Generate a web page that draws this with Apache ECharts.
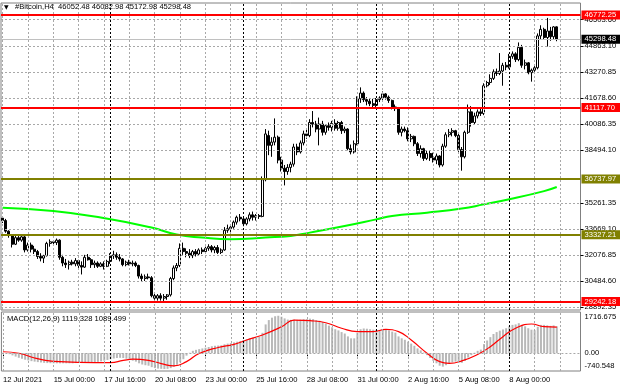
<!DOCTYPE html>
<html><head><meta charset="utf-8">
<script src="https://cdn.jsdelivr.net/npm/echarts@6/dist/echarts.min.js"></script>
<style>html,body{margin:0;padding:0;background:#fff}#c{width:620px;height:388px}</style>
</head><body><div id="c"></div>
<script>
// ---- H4 candles, 12 Jul 2021 08:00 .. 10 Aug 2021 12:00 ----
const open = [34350,34200,33550,33300,32750,33150,33000,33200,32400,32700,32450,32300,32000,31900,32050,32800,32900,32850,33000,31950,
31600,31500,31650,31550,31750,31450,31350,31950,31800,31500,31600,31400,31550,31400,31700,32050,32100,31950,31850,31500,
31650,31550,31600,31450,30800,30650,30750,30700,29600,29450,29600,29450,29550,29650,30650,31300,31450,32500,32300,32200,
32050,32300,32150,32400,32300,32500,32600,32400,32550,32250,32400,33600,33700,33800,34100,34400,34300,34000,34300,34550,
34400,34500,34450,36700,39400,38800,39000,39300,37900,37400,37200,37450,37650,38700,38400,38950,39500,39400,40200,40100,
39800,40100,39600,40000,39900,40150,39850,40200,39700,39800,38600,38400,38900,41650,42000,41600,41500,41350,41250,41600,
41700,41950,41750,41550,41150,41050,39600,39800,39700,39200,39350,38900,38300,38600,38000,38300,38050,37900,38150,37600,
38750,39450,39600,39700,39400,38550,38100,39600,40850,40200,40600,40850,40750,42450,42650,42900,43300,43200,43350,43700,
43600,44250,44400,44050,44800,43700,43850,43250,43400,43550,45500,45900,45400,45800,45450,46052.48];
const high = [34450,34300,33600,33350,33250,33250,33300,33250,32850,32850,32650,32400,32200,32100,32900,33050,33000,33100,33050,32100,
31850,31750,31800,31900,31800,31700,32100,32150,31900,31750,31700,31650,31700,31800,32200,32350,32250,32150,31900,31750,
31800,31750,31700,31500,30950,30900,30950,30800,29750,29700,29750,29700,29700,30750,31450,31600,32800,32850,32500,32450,
32400,32450,32500,32550,32600,32750,32700,32650,32700,32500,33800,33950,33850,34200,34500,34600,34450,34400,34700,34750,
34600,34600,36900,39800,39700,39300,40450,39400,38100,37600,37650,37800,38900,38900,39100,39700,39800,40400,40900,40300,
40500,40300,40100,40200,40300,40400,40300,40300,39950,39850,38850,39100,41800,42350,42100,41750,41700,41650,41700,41800,
42100,42000,41850,41600,41300,41150,39950,39950,39900,39500,39400,39000,38800,38650,38500,38450,38350,38300,38200,38900,
39600,39800,39850,39750,39500,38700,39700,41300,41200,40800,41000,41050,42600,42750,43150,43450,43500,44450,43850,43900,
44400,44550,44500,45100,44950,44050,43900,43500,43650,45650,46150,46000,46600,46050,46100,46082.98];
const low = [34050,33450,33150,32550,32700,32900,32900,32250,32300,32250,32150,31850,31700,31600,32000,32600,32650,32700,31800,31400,
31300,31200,31450,31400,31300,30900,31300,31750,31300,31300,31300,31350,31200,31350,31550,31850,31800,31700,31400,31400,
31450,31400,31350,30650,30450,30500,30600,29500,29350,29300,29300,29280,29350,29550,30550,31100,31350,32100,31950,31900,
31900,32000,32050,32150,32200,32350,32250,32200,32150,32150,32350,33450,33500,33700,33950,34150,33850,33900,34150,34200,
34200,34300,34400,36600,38200,38100,38800,37700,37200,36350,37000,37150,37500,38200,38300,38800,39200,39300,39900,39600,
38800,39400,39450,39700,39650,39700,39700,39500,39550,38500,38250,38300,38800,41400,41450,41250,41200,41100,41150,41450,
41550,41600,41400,41000,40900,39450,39350,39600,39050,39000,38750,38150,38050,37850,37900,37850,37750,37650,37450,37500,
38650,39300,39350,39300,38400,37250,38000,39500,39950,40050,40450,40600,40650,42350,42500,42800,43050,43100,42450,43400,
43500,44100,43900,43950,43550,43450,43150,42700,43300,43450,45300,45250,44850,45200,45300,45172.98];
const close = [34200,33550,33300,32750,33150,33000,33200,32400,32700,32450,32300,32000,31900,32050,32800,32900,32850,33000,31950,31600,
31500,31650,31550,31750,31450,31350,31950,31800,31500,31600,31400,31550,31400,31700,32050,32100,31950,31850,31500,31650,
31550,31600,31450,30800,30650,30750,30700,29600,29450,29600,29450,29550,29650,30650,31300,31450,32500,32300,32200,32050,
32300,32150,32400,32300,32500,32600,32400,32550,32250,32400,33600,33700,33800,34100,34400,34300,34000,34300,34550,34400,
34500,34450,36700,39500,38800,39000,39300,37900,37400,37200,37450,37650,38700,38400,38950,39500,39400,40200,40100,39800,
40100,39600,40000,39900,40150,39850,40200,39700,39800,38600,38400,38900,41650,42000,41600,41500,41350,41250,41600,41700,
41950,41750,41550,41150,41050,39600,39800,39700,39200,39350,38900,38300,38600,38000,38300,38050,37900,38150,37600,38750,
39450,39600,39700,39400,38550,38100,39600,40850,40200,40600,40850,40750,42450,42650,42900,43300,43200,43350,43700,43600,
44250,44400,44050,44800,43700,43850,43250,43400,43550,45500,45900,45400,45800,45450,46050,45298.48];

// moving average (green), read at sample bars
const maIdx = [0,16,31,47,55,63,72,83,91,97,108,118,123,134,145,152,160,171,175];
const maVal = [34980,34780,34380,33770,33340,33160,33060,33160,33260,33460,33860,34270,34480,34680,34930,35190,35500,36000,36250];

// MACD(12,26,9) histogram, one value per bar
const macdHist = [20,0,-40,-90,-140,-190,-230,-270,-300,-330,-350,-370,-385,
-400,-410,-415,-420,-420,-420,-420,-420,
-420,-420,-410,-400,-405,-395,-385,-380,-370,-360,
-340,-310,-280,-250,-220,-200,-190,-200,-230,-270,
-310,-350,-420,-470,-500,-520,
-580,-620,-640,-650,-660,-650,-620,
-560,-480,-380,-250,-100,
20,100,140,170,200,230,260,290,310,320,330,370,400,420,450,480,510,540,580,620,650,670,680,
850,1200,1380,1480,1540,1560,1520,1450,1400,1390,1400,1390,1400,1420,1420,1440,
1420,1380,1350,1300,1230,1150,1080,1000,950,880,820,700,620,620,
850,1000,1030,1020,1000,980,970,970,990,980,950,900,860,700,620,560,480,400,310,200,120,30,
-80,-200,-320,-420,-520,-560,-500,-430,-380,-350,-380,-400,-320,-180,-80,20,100,150,
380,530,670,800,880,940,990,1040,1120,1180,1200,1250,1180,1120,1040,980,960,1100,1180,1180,1160,1140,1160,1119.328];
// signal line, read at sample bars
const sigIdx = [0,5,10,13,16,24,34,38,41,46,50,54,58,62,68,73,77,82,88,92,97,102,107,112,117,121,125,129,134,138,141,145,150,154,158,162,167,171,175];
const sigVal = [62,0,-200,-290,-340,-380,-390,-300,-250,-300,-430,-530,-350,-10,240,370,550,760,1100,1380,1355,1270,1040,900,900,990,900,550,0,-350,-420,-320,-50,270,690,1040,1216,1104,1089.499];

// axes
const timeTickIdx = [0,16,32,48,64,80,96,112,128,144,160];
const timeTickLabels = ['12 Jul 2021','15 Jul 00:00','17 Jul 16:00','20 Jul 08:00','23 Jul 00:00','25 Jul 16:00','28 Jul 08:00','31 Jul 00:00','2 Aug 16:00','5 Aug 08:00','8 Aug 00:00'];
const weekSepIdx = [34,76,118,160];
const priceTicks = [46503.60,44863.10,43270.85,41678.60,40086.35,38494.10,35261.35,33669.10,32076.85,30484.60,28892.35];
const macdTicks = [1716.675,0,-740.548];
const redLevels = [46772.25,41117.70,29242.18];
const oliveLevels = [36737.97,33327.21];

const FONT = 'Liberation Sans, Arial, sans-serif';
const FS = 7.6;
const nBars = close.length;
const N = nBars + 7;
const cats = Array.from({length: N}, (_, i) => String(i));
const tickMap = {};
timeTickIdx.forEach((k, j) => { tickMap[k] = timeTickLabels[j]; });
const vGrid = [];
for (let i = 0; i <= nBars; i += 8) if (weekSepIdx.indexOf(i) < 0) vGrid.push(i);

const dashGrey = {color: '#a8a8a8', type: [2, 2], width: 1};
const dotBlack = {color: '#000', type: [2, 2], width: 1};
function gridLines(hVals) {
  const d = [];
  hVals.forEach(v => d.push({yAxis: v, lineStyle: dashGrey}));
  vGrid.forEach(v => d.push({xAxis: v, lineStyle: dashGrey}));
  weekSepIdx.forEach(v => d.push({xAxis: v, lineStyle: dotBlack}));
  return {silent: true, symbol: ['none', 'none'], label: {show: false}, animation: false, data: d};
}
function levelLabel(bg) {
  return {show: true, position: 'end', distance: 1, color: '#fff', backgroundColor: bg,
    padding: [1, 5, 0, 3], fontSize: FS, fontFamily: FONT,
    formatter: p => Number(p.value).toFixed(2)};
}
const levelData = [];
redLevels.forEach(v => levelData.push({yAxis: v, lineStyle: {color: '#ff0000', width: 2, type: 'solid'}, label: levelLabel('#ff0000')}));
oliveLevels.forEach(v => levelData.push({yAxis: v, lineStyle: {color: '#808000', width: 2, type: 'solid'}, label: levelLabel('#808000')}));
levelData.push({yAxis: close[nBars - 1], lineStyle: {color: '#c0c0c0', width: 1, type: 'solid'}, label: levelLabel('#000000')});

const candleData = close.map((c, i) => [open[i], close[i], low[i], high[i]]);
const header = '#Bitcoin,H4  ' + [open[nBars-1], high[nBars-1], low[nBars-1], close[nBars-1]].map(v => v.toFixed(2)).join(' ');
const macdText = 'MACD(12,26,9) ' + macdHist[nBars-1].toFixed(3) + ' ' + sigVal[sigVal.length-1].toFixed(3);

const chart = echarts.init(document.getElementById('c'));
chart.setOption({
  animation: false,
  backgroundColor: '#fff',
  textStyle: {fontFamily: FONT},
  grid: [
    {left: 1, top: 3, width: 579.5, height: 307, show: true, borderColor: '#808080', borderWidth: 1, backgroundColor: '#fff'},
    {left: 1, top: 312, width: 579.5, height: 59, show: true, borderColor: '#808080', borderWidth: 1, backgroundColor: '#fff'}
  ],
  xAxis: [
    {type: 'category', gridIndex: 0, data: cats, boundaryGap: true, axisLine: {show: false}, axisTick: {show: false}, axisLabel: {show: false}, splitLine: {show: false}},
    {type: 'category', gridIndex: 1, data: cats, boundaryGap: true, axisLine: {show: false},
      axisTick: {show: true, alignWithLabel: true, length: 3, interval: (i) => tickMap[i] !== undefined, lineStyle: {color: '#000'}},
      axisLabel: {show: true, interval: (i) => tickMap[i] !== undefined, formatter: (v, i) => tickMap[i] || '', align: 'left', margin: 5, fontSize: FS, color: '#000', fontFamily: FONT},
      splitLine: {show: false}}
  ],
  yAxis: [
    {type: 'value', gridIndex: 0, position: 'right', min: 28725, max: 47513, splitLine: {show: false}, axisLine: {show: false},
      axisTick: {show: true, length: 3, customValues: priceTicks, lineStyle: {color: '#000'}},
      axisLabel: {customValues: priceTicks, formatter: v => v.toFixed(2), margin: 4, fontSize: FS, color: '#000', fontFamily: FONT}},
    {type: 'value', gridIndex: 1, position: 'right', min: macdTicks[2], max: macdTicks[0], splitLine: {show: false}, axisLine: {show: false},
      axisTick: {show: false},
      axisLabel: {customValues: macdTicks, margin: 4, fontSize: FS, color: '#000', fontFamily: FONT,
        formatter: v => v > 0 ? '{t|' + v.toFixed(3) + '}' : (v < 0 ? '{b|' + v.toFixed(3) + '}' : '0.00'),
        rich: {t: {padding: [10, 0, 0, 0], fontSize: FS, fontFamily: FONT}, b: {padding: [0, 0, 10, 0], fontSize: FS, fontFamily: FONT}}}}
  ],
  series: [
    {type: 'line', name: 'grid0', xAxisIndex: 0, yAxisIndex: 0, data: [], z: 1, markLine: gridLines(priceTicks)},
    {type: 'line', name: 'grid1', xAxisIndex: 1, yAxisIndex: 1, data: [], z: 1, markLine: gridLines([0])},
    {type: 'candlestick', name: 'BTC', xAxisIndex: 0, yAxisIndex: 0, data: candleData, barWidth: 2.4, z: 2,
      itemStyle: {color: '#ffffff', color0: '#000000', borderColor: '#000000', borderColor0: '#000000', borderWidth: 1}},
    {type: 'line', name: 'MA', xAxisIndex: 0, yAxisIndex: 0, data: maIdx.map((k, j) => [k, maVal[j]]), smooth: true, symbol: 'none', z: 3,
      lineStyle: {color: '#00ff00', width: 2}},
    {type: 'line', name: 'levels', xAxisIndex: 0, yAxisIndex: 0, data: [], z: 5,
      markLine: {silent: true, symbol: ['none', 'none'], animation: false, data: levelData}},
    {type: 'bar', name: 'MACD', xAxisIndex: 1, yAxisIndex: 1, data: macdHist, barWidth: 2, z: 2, itemStyle: {color: '#b8b8b8'}},
    {type: 'line', name: 'Signal', xAxisIndex: 1, yAxisIndex: 1, data: sigIdx.map((k, j) => [k, sigVal[j]]), smooth: true, symbol: 'none', z: 3,
      lineStyle: {color: '#ff0000', width: 1.2}}
  ],
  graphic: [
    {type: 'text', left: 4, top: 4, z: 10, style: {text: '▼', fontSize: 6, fill: '#000', fontFamily: 'DejaVu Sans'}},
    {type: 'text', left: 15, top: 3, z: 10, style: {text: header, fontSize: FS, fill: '#000', fontFamily: FONT}},
    {type: 'text', left: 7, top: 315, z: 10, style: {text: macdText, fontSize: FS, fill: '#000', fontFamily: FONT}}
  ]
});
</script></body></html>
